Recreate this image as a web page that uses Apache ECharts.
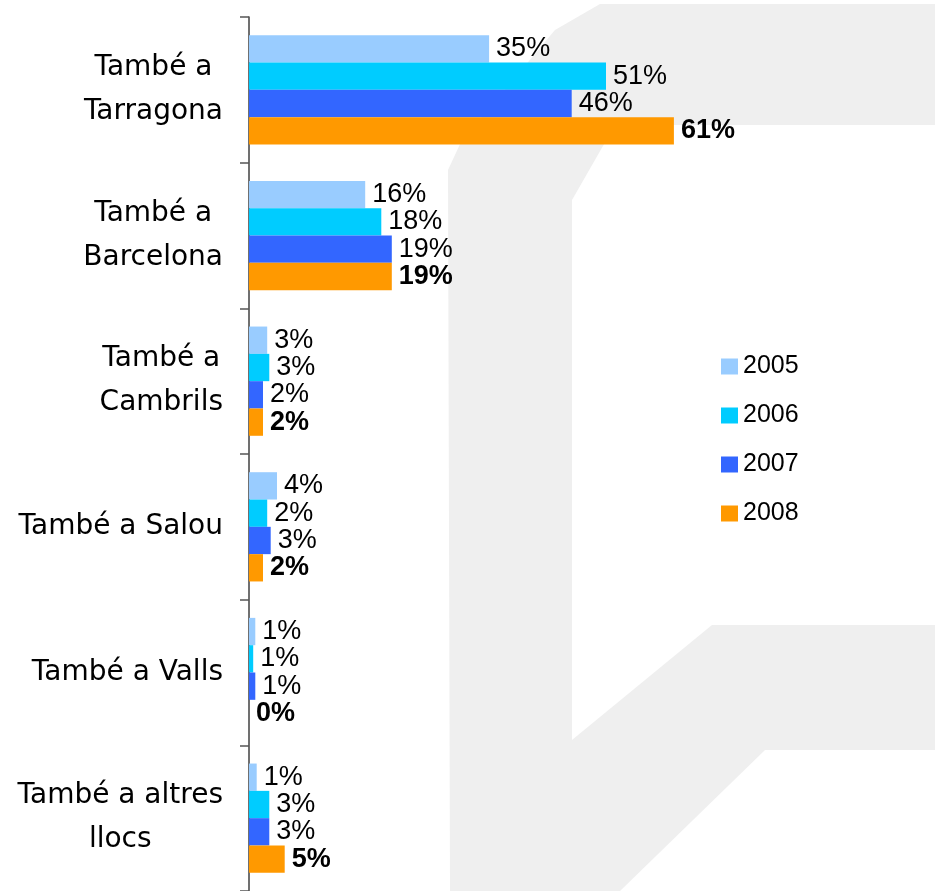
<!DOCTYPE html>
<html>
<head>
<meta charset="utf-8">
<script src="https://cdn.jsdelivr.net/npm/echarts@6/dist/echarts.min.js"></script>
<style>
  html, body { margin: 0; padding: 0; background: #fff; }
  #main { width: 935px; height: 891px; }
</style>
</head>
<body>
<div id="main"></div>
<script>
// categories (top to bottom)
var categories = ['També a\nTarragona', 'També a\nBarcelona', 'També a\nCambrils',
    'També a Salou', 'També a Valls', 'També a altres\nllocs'];
var years = ['2005', '2006', '2007', '2008'];
// bar lengths (%)
var v2005 = [34.3, 16.6, 2.6, 4.0, 0.9, 1.1];
var v2006 = [51.0, 18.9, 2.9, 2.6, 0.6, 2.9];
var v2007 = [46.1, 20.4, 2.0, 3.1, 0.9, 2.9];
var v2008 = [60.7, 20.4, 2.0, 2.0, 0.0, 5.1];
// label text as printed
var l2005 = ['35%', '16%', '3%', '4%', '1%', '1%'];
var l2006 = ['51%', '18%', '3%', '2%', '1%', '3%'];
var l2007 = ['46%', '19%', '2%', '3%', '1%', '3%'];
var l2008 = ['61%', '19%', '2%', '2%', '0%', '5%'];
var colors = ['#99ccff', '#00ccff', '#3366ff', '#ff9900'];

var values = [v2005, v2006, v2007, v2008];
var labels = [l2005, l2006, l2007, l2008];

var chart = echarts.init(document.getElementById('main'));

var series = years.map(function (y, i) {
    return {
        name: y,
        type: 'bar',
        data: values[i],
        barGap: '0%',
        barCategoryGap: '25%',
        itemStyle: { color: colors[i] },
        label: {
            show: true,
            position: 'right',
            distance: 7,
            color: '#000',
            fontSize: 27,
            fontFamily: 'Liberation Sans',
            fontWeight: i == 3 ? 'bold' : 'normal',
            formatter: function (p) {
                return labels[p.seriesIndex][p.dataIndex];
            }
        }
    };
});

var option = {
    backgroundColor: '#fff',
    animation: false,
    graphic: [{
        type: 'polygon',
        z: -10,
        silent: true,
        shape: {
            points: [[600, 4], [935, 4], [935, 125], [615, 125], [572, 200], [572, 740],
                [712, 625], [935, 625], [935, 750], [765, 750], [620, 891], [450, 891],
                [448, 170], [461, 142], [555, 30]]
        },
        style: { fill: '#efefef' }
    }],
    legend: {
        orient: 'vertical',
        left: 716,
        top: 349,
        itemWidth: 17,
        itemHeight: 16,
        itemGap: 24,
        icon: 'rect',
        textStyle: { fontSize: 25, color: '#000', fontFamily: 'Liberation Sans' },
        data: years
    },
    grid: { left: 249, top: 17, width: 686, height: 878 },
    xAxis: {
        type: 'value',
        min: 0,
        max: 98,
        show: false
    },
    yAxis: {
        type: 'category',
        inverse: true,
        data: categories,
        axisLine: { show: true, lineStyle: { color: '#404040', width: 1.5 } },
        axisTick: { show: true, alignWithLabel: false, length: 9, lineStyle: { color: '#555', width: 1.5 } },
        axisLabel: {
            margin: 26,
            color: '#000',
            formatter: function (v) {
                return v.split('\n').map(function (s) { return '{c|' + s + '}'; }).join('\n');
            },
            rich: {
                c: { align: 'center', fontSize: 28, lineHeight: 44, color: '#000', fontFamily: 'DejaVu Sans' }
            }
        }
    },
    series: series
};

chart.setOption(option);
</script>
</body>
</html>
